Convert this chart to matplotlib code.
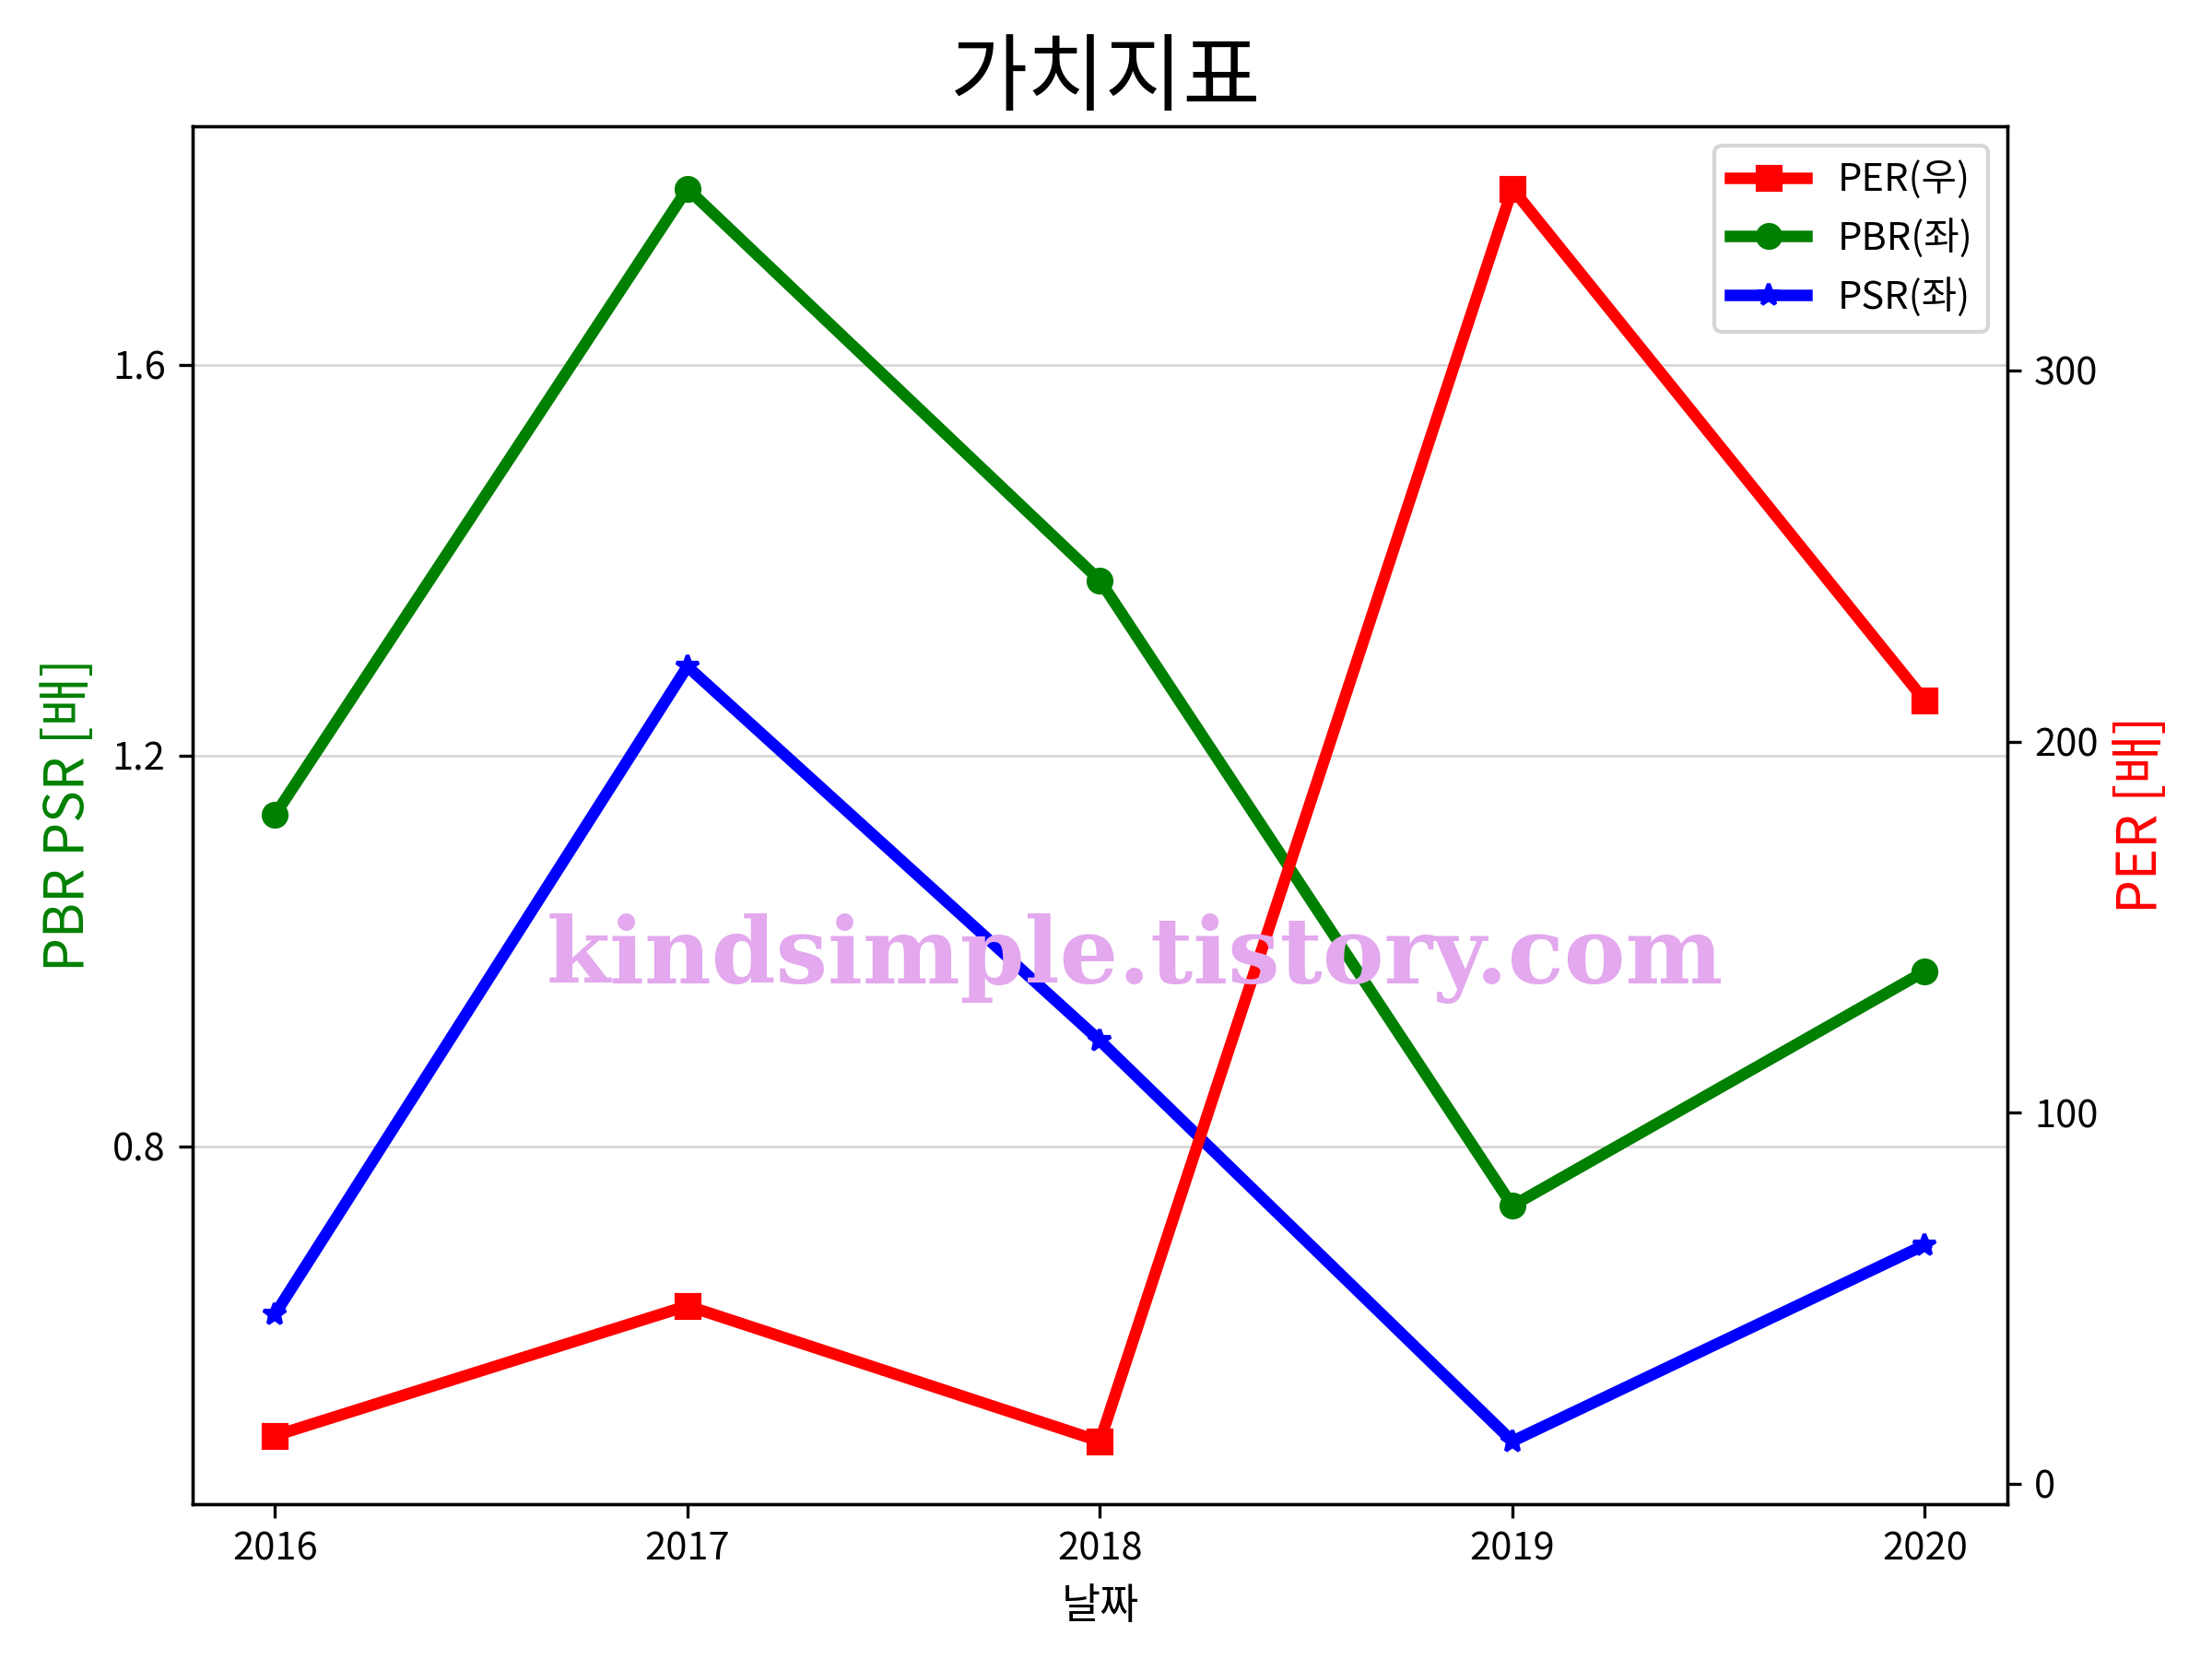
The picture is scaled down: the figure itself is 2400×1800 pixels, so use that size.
import matplotlib
matplotlib.use("Agg")
import matplotlib.pyplot as plt

plt.rcParams['font.family'] = ['Noto Sans CJK KR', 'DejaVu Sans']
plt.rcParams['axes.unicode_minus'] = False

years = ['2016', '2017', '2018', '2019', '2020']
per = [12.9, 47.9, 11.4, 349, 211]
pbr = [1.139, 1.780, 1.379, 0.739, 0.979]
psr = [0.628, 1.291, 0.908, 0.498, 0.699]

fig, ax1 = plt.subplots(figsize=(8, 6), dpi=300)
ax2 = ax1.twinx()

l1, = ax2.plot(years, per, color='red', marker='s', lw=3, ms=6, label='PER(우)')
l2, = ax1.plot(years, pbr, color='green', marker='o', lw=3, ms=6, label='PBR(좌)')
l3, = ax1.plot(years, psr, color='blue', marker='*', lw=3, ms=6, label='PSR(좌)')

ax1.set_yticks([0.8, 1.2, 1.6])
ax1.grid(axis='y', color='lightgray', lw=0.6)
ax1.set_xlabel('날짜', fontsize=11)
ax1.set_ylabel('PBR PSR [배]', color='green', fontsize=14)
ax2.set_ylabel('PER [배]', color='red', fontsize=14)
ax2.set_yticks([0, 100, 200, 300])

ax2.legend(handles=[l1, l2, l3], loc='upper right', fontsize=10)
fig.suptitle('가치지표', fontsize=22, y=0.978)

fig.text(0.513, 0.422, 'kindsimple.tistory.com', fontsize=24, fontweight='heavy',
         family='DejaVu Serif', color='#E3A8EE', ha='center', va='center')

fig.subplots_adjust(left=0.087, right=0.9075, top=0.924, bottom=0.0935)
fig.savefig('out.png', dpi=300)
